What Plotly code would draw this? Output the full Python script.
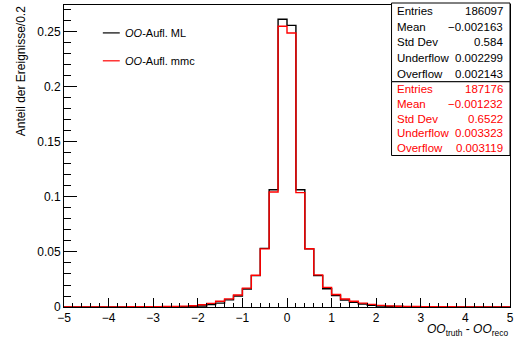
import plotly.graph_objects as go

# ---------------- data ----------------
bin_lo, bin_hi, nbins = -5.0, 5.0, 50

ml_values = [
    0.00003, 0.00003, 0.00004, 0.00004, 0.00005, 0.00005, 0.00006, 0.00007, 0.00008, 0.0001,
    0.00012, 0.00015, 0.0002, 0.00028, 0.0005, 0.0009, 0.0022, 0.0035, 0.0065, 0.0100,
    0.0163, 0.0285, 0.0533, 0.1066, 0.2615, 0.2560, 0.1066, 0.0528, 0.0285, 0.0166,
    0.0105, 0.0064, 0.0042, 0.0027, 0.0015, 0.0009, 0.0006, 0.0004, 0.0003, 0.0002,
    0.00015, 0.00012, 0.0001, 0.00008, 0.00007, 0.00006, 0.00005, 0.00004, 0.00004, 0.00003,
]
mmc_values = [
    0.00005, 0.00006, 0.00007, 0.00008, 0.0001, 0.00012, 0.00014, 0.00016, 0.0002, 0.00025,
    0.0003, 0.0004, 0.0006, 0.0008, 0.0012, 0.0021, 0.0033, 0.0052, 0.0074, 0.0109,
    0.0172, 0.0288, 0.0528, 0.1045, 0.2552, 0.2490, 0.1040, 0.0530, 0.0292, 0.0178,
    0.0113, 0.0073, 0.0052, 0.0035, 0.0024, 0.0015, 0.0010, 0.0007, 0.0005, 0.0004,
    0.0003, 0.00025, 0.0002, 0.00016, 0.00014, 0.00012, 0.0001, 0.00008, 0.00007, 0.00006,
]

legend_labels = ["<i>OO</i>-Aufl. ML", "<i>OO</i>-Aufl. mmc"]
stat_labels = ["Entries", "Mean", "Std Dev", "Underflow", "Overflow"]
stats_ml = ["186097", "\u22120.002163", "0.584", "0.002299", "0.002143"]
stats_mmc = ["187176", "\u22120.001232", "0.6522", "0.003323", "0.003119"]

y_title = "Anteil der Ereignisse/0.2"
x_title = "<i>OO</i><sub>truth</sub> - <i>OO</i><sub>reco</sub>"

# ---------------- figure ----------------
W, H = 518, 340
ML, MR, MT, MB = 64, 6, 4, 33
PW, PH = W - ML - MR, H - MT - MB
FONT = "Liberation Sans, Arial, sans-serif"

width = (bin_hi - bin_lo) / nbins
edges = [bin_lo + i * width for i in range(nbins + 1)]


def px_x(px):
    return (px - ML) / PW


def px_y(py):
    return (H - MB - py) / PH


fig = go.Figure()
for vals, col in ((ml_values, "black"), (mmc_values, "#ff0000")):
    fig.add_trace(go.Scatter(
        x=edges, y=list(vals) + [vals[-1]], mode="lines",
        line=dict(color=col, width=1.4, shape="hv"),
        showlegend=False, hoverinfo="skip",
    ))

shapes = []
annots = []

# legend
for i, (lab, col) in enumerate(zip(legend_labels, ["black", "#ff0000"])):
    yy = px_y(32 + i * 28)
    shapes.append(dict(type="line", xref="paper", yref="paper",
                       x0=px_x(103), x1=px_x(120), y0=yy, y1=yy,
                       line=dict(color=col, width=1.2)))
    annots.append(dict(xref="paper", yref="paper", x=px_x(123), y=yy,
                       xanchor="left", yanchor="middle", showarrow=False,
                       text=lab, font=dict(family=FONT, size=11, color="black")))

# stat boxes
box_left, box_right = 393, 512
boxes = [(2, 81, stats_ml, "black"), (81, 155, stats_mmc, "#ff0000")]
for top, bot, vals, col in boxes:
    shapes.append(dict(type="rect", xref="paper", yref="paper",
                       x0=px_x(box_left), x1=px_x(box_right),
                       y0=px_y(bot), y1=px_y(top),
                       fillcolor="white", line=dict(color="black", width=1),
                       layer="above"))
    rh = (bot - top) / len(stat_labels)
    for j, (lab, v) in enumerate(zip(stat_labels, vals)):
        yy = px_y(top + rh * (j + 0.5))
        annots.append(dict(xref="paper", yref="paper", x=px_x(box_left + 3), y=yy,
                           xanchor="left", yanchor="middle", showarrow=False,
                           text=lab, font=dict(family=FONT, size=11.5, color=col)))
        annots.append(dict(xref="paper", yref="paper", x=px_x(box_right - 5), y=yy,
                           xanchor="right", yanchor="middle", showarrow=False,
                           text=v, font=dict(family=FONT, size=11.5, color=col)))

# axis titles
annots.append(dict(xref="paper", yref="paper", x=px_x(21), y=px_y(3),
                   xanchor="center", yanchor="top", textangle=-90, showarrow=False,
                   text=y_title, font=dict(family=FONT, size=12, color="black")))
annots.append(dict(xref="paper", yref="paper", x=px_x(512), y=px_y(330),
                   xanchor="right", yanchor="middle", showarrow=False,
                   text=x_title, font=dict(family=FONT, size=12, color="black")))

fig.update_layout(
    width=W, height=H,
    margin=dict(l=ML, r=MR, t=MT, b=MB, pad=0),
    paper_bgcolor="white", plot_bgcolor="white",
    font=dict(family=FONT, size=12, color="black"),
    shapes=shapes, annotations=annots,
    xaxis=dict(range=[bin_lo, bin_hi], dtick=1, tick0=0,
               ticks="inside", ticklen=9, tickwidth=1, tickcolor="black",
               minor=dict(dtick=0.2, ticks="inside", ticklen=4.5, tickcolor="black", tickwidth=1),
               showline=True, linecolor="black", linewidth=1, mirror=True,
               showgrid=False, zeroline=False, ticklabelstandoff=0,
               tickfont=dict(family=FONT, size=12)),
    yaxis=dict(range=[0, 0.2745], dtick=0.05, tick0=0,
               ticks="inside", ticklen=13, tickwidth=1, tickcolor="black",
               minor=dict(dtick=0.01, ticks="inside", ticklen=7, tickcolor="black", tickwidth=1),
               showline=True, linecolor="black", linewidth=1, mirror=True,
               showgrid=False, zeroline=False, ticklabelstandoff=0,
               tickfont=dict(family=FONT, size=12)),
)

fig.write_html("out.html", config={"displayModeBar": False},
               post_script="document.body.style.margin='0';")
